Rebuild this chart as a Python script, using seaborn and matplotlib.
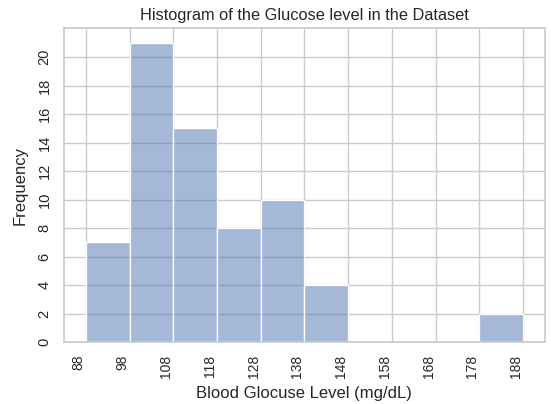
import numpy as np
import pandas as pd
import seaborn as sns
import matplotlib.pyplot as plt

# histogram bins
bin_edges = [88, 98, 108, 118, 128, 138, 148, 158, 168, 178, 188]
counts = [7, 21, 15, 8, 10, 4, 0, 0, 0, 2]
y_ticks = [0, 2, 4, 6, 8, 10, 12, 14, 16, 18, 20]

centers = [(a + b) / 2 for a, b in zip(bin_edges[:-1], bin_edges[1:])]
df = pd.DataFrame({"glucose": centers, "count": counts})

sns.set_theme(style="whitegrid")
plt.rcParams['font.family'] = ['Liberation Sans', 'DejaVu Sans']

fig, ax = plt.subplots(figsize=(5.51, 4.04), dpi=100)
fig.subplots_adjust(left=0.116, right=0.989, top=0.931, bottom=0.153)

sns.histplot(data=df, x="glucose", weights="count", bins=bin_edges,
             color="#4c72b0", alpha=0.5, edgecolor="white", linewidth=1, ax=ax)

ax.set_xticks(bin_edges)
ax.set_xticklabels([str(e) for e in bin_edges], rotation=90, ha="right", fontsize=10)
ax.set_yticks(y_ticks)
ax.set_yticklabels([str(t) for t in y_ticks], rotation=90, va="center", fontsize=10.5)
ax.tick_params(axis="both", pad=3)

ax.set_title("Histogram of the Glucose level in the Dataset", fontsize=11.8)
ax.set_xlabel("Blood Glocuse Level (mg/dL)", fontsize=12, labelpad=6)
ax.set_ylabel("Frequency", fontsize=12, labelpad=7)

fig.savefig("out.png", dpi=100)
